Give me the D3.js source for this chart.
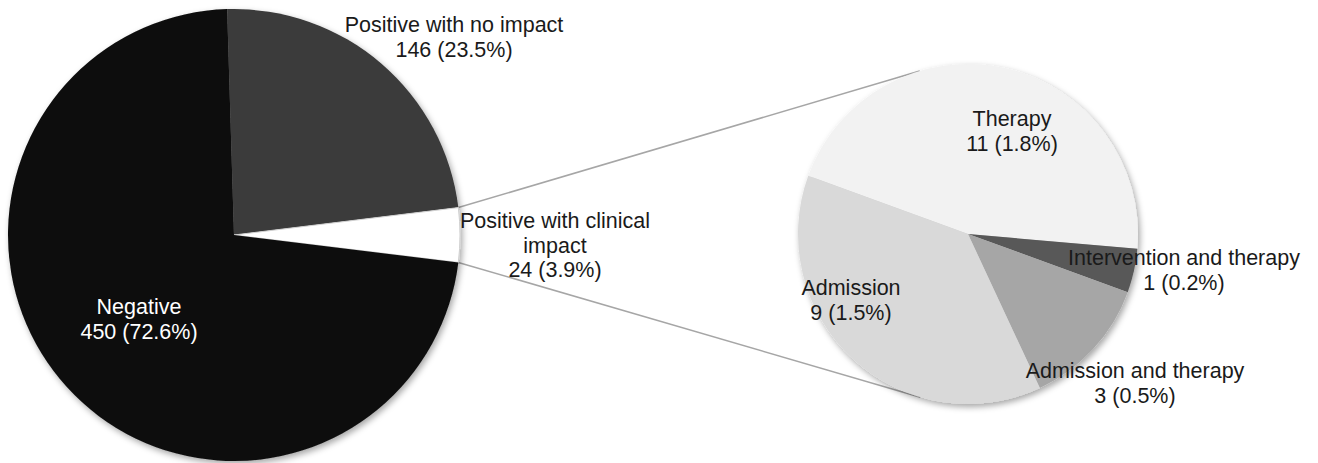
<!DOCTYPE html>
<html>
<head>
<meta charset="utf-8">
<script src="https://d3js.org/d3.v7.min.js"></script>
<style>
  body { margin: 0; background: #fff; }
  text { font-family: "Liberation Sans", Arial, sans-serif; font-size: 21.5px; }
</style>
</head>
<body>
<div id="chart"></div>
<script>
// main pie
var mainNames = ["Positive with no impact", "Positive with clinical impact", "Negative"];
var mainValues = [146, 24, 450];
var mainPct = ["23.5%", "3.9%", "72.6%"];
var mainColors = ["#3a3a3a", "#ffffff", "#0d0d0d"];

// breakdown of the clinical impact slice
var subNames = ["Therapy", "Intervention and therapy", "Admission and therapy", "Admission"];
var subValues = [11, 1, 3, 9];
var subPct = ["1.8%", "0.2%", "0.5%", "1.5%"];
var subColors = ["#f2f2f2", "#595959", "#a6a6a6", "#d9d9d9"];

var W = 1318, H = 463;
var svg = d3.select("#chart").append("svg")
    .attr("width", W)
    .attr("height", H);

var defs = svg.append("defs");
var f = defs.append("filter").attr("id", "shadow")
    .attr("x", "-10%").attr("y", "-10%").attr("width", "120%").attr("height", "120%");
f.append("feDropShadow").attr("dx", 2).attr("dy", 3).attr("stdDeviation", 3)
    .attr("flood-color", "#000").attr("flood-opacity", 0.35);

var c1 = [234, 235], r1 = 226;
var c2 = [968, 234], r2 = 170;

// put the clinical slice centred on the right side
var total = d3.sum(mainValues);
var start1 = Math.PI / 2 - (mainValues[0] + mainValues[1] / 2) / total * 2 * Math.PI;
var pie1 = d3.pie().sort(null).startAngle(start1).endAngle(start1 + 2 * Math.PI);
var arcs1 = pie1(mainValues);

var start2 = -70 * Math.PI / 180;
var pie2 = d3.pie().sort(null).startAngle(start2).endAngle(start2 + 2 * Math.PI);
var arcs2 = pie2(subValues);

var arc1 = d3.arc().innerRadius(0).outerRadius(r1);
var arc2 = d3.arc().innerRadius(0).outerRadius(r2);

// connector lines: from the clinical slice edge, tangent to the second pie
var clin = arcs1[1];
function pt(c, r, a) { return [c[0] + r * Math.sin(a), c[1] - r * Math.cos(a)]; }
function tangent(p, upper) {
  var dx = p[0] - c2[0], dy = p[1] - c2[1];
  var d = Math.sqrt(dx * dx + dy * dy);
  var base = Math.atan2(dy, dx), al = Math.acos(r2 / d);
  var a = base + al, b = base - al;
  var ta = [c2[0] + r2 * Math.cos(a), c2[1] + r2 * Math.sin(a)];
  var tb = [c2[0] + r2 * Math.cos(b), c2[1] + r2 * Math.sin(b)];
  if (upper) return ta[1] < tb[1] ? ta : tb;
  return ta[1] > tb[1] ? ta : tb;
}
var p0 = pt(c1, r1, clin.startAngle), p1 = pt(c1, r1, clin.endAngle);
[[p0, tangent(p0, true)], [p1, tangent(p1, false)]].forEach(function(l) {
  svg.append("line")
    .attr("x1", l[0][0]).attr("y1", l[0][1])
    .attr("x2", l[1][0]).attr("y2", l[1][1])
    .attr("stroke", "#a6a6a6")
    .attr("stroke-width", 1.5);
});

var g1 = svg.append("g").attr("transform", "translate(" + c1 + ")");
g1.append("g").attr("filter", "url(#shadow)")
  .selectAll("path")
  .data(arcs1)
  .enter()
  .append("path")
    .attr("d", arc1)
    .attr("fill", function(d, i) { return mainColors[i]; })
    .attr("stroke", function(d, i) { return i == 1 ? "#cfcfcf" : "none"; })
    .attr("stroke-width", 1);

var g2 = svg.append("g").attr("transform", "translate(" + c2 + ")");
g2.append("g").attr("filter", "url(#shadow)")
  .selectAll("path")
  .data(arcs2)
  .enter()
  .append("path")
    .attr("d", arc2)
    .attr("fill", function(d, i) { return subColors[i]; });

// labels (positions relative to the page)
var mainLabelPos = [[454, 32], [555, 228], [139, 314]];
var mainLines = [
  [mainNames[0], mainValues[0] + " (" + mainPct[0] + ")"],
  ["Positive with clinical", "impact", mainValues[1] + " (" + mainPct[1] + ")"],
  [mainNames[2], mainValues[2] + " (" + mainPct[2] + ")"]
];
var subLabelPos = [[1012, 126], [1184, 265], [1135, 378], [851, 295]];

function label(pos, lines, color) {
  var t = svg.append("text")
    .attr("x", pos[0]).attr("y", pos[1])
    .attr("text-anchor", "middle")
    .attr("fill", color);
  lines.forEach(function(s, i) {
    t.append("tspan").attr("x", pos[0]).attr("dy", i ? 24.5 : 0).text(s);
  });
}
mainLines.forEach(function(l, i) {
  label(mainLabelPos[i], l, i == 2 ? "#ffffff" : "#1a1a1a");
});
subNames.forEach(function(n, i) {
  label(subLabelPos[i], [n, subValues[i] + " (" + subPct[i] + ")"], "#1a1a1a");
});
</script>
</body>
</html>
